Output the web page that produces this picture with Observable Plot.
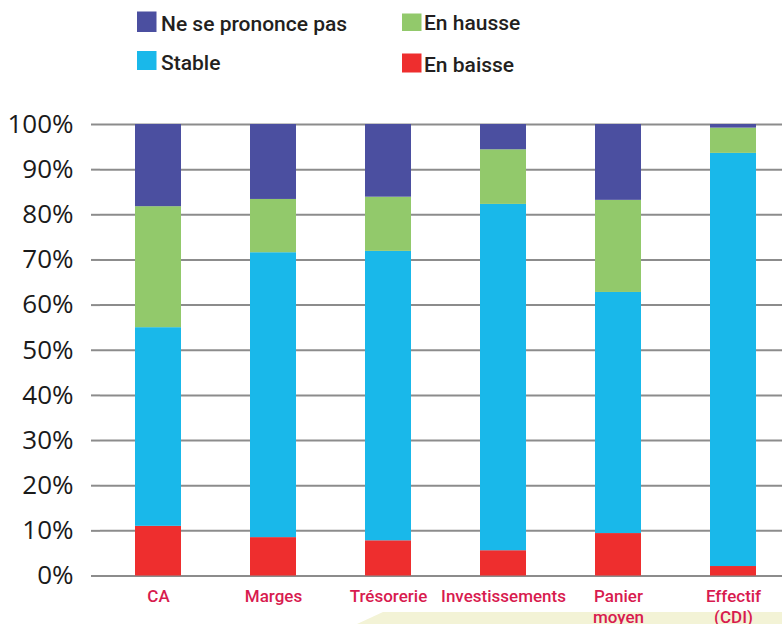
<!DOCTYPE html>
<html>
<head>
<meta charset="utf-8">
<script src="https://cdn.jsdelivr.net/npm/d3@7"></script>
<script src="https://cdn.jsdelivr.net/npm/@observablehq/plot@0.6"></script>
<style>
  html, body { margin: 0; padding: 0; background: #fff; overflow: hidden; }
  #wrap { position: relative; width: 782px; height: 624px; overflow: hidden; }
  #deco { position: absolute; left: 0; top: 0; width: 782px; height: 624px;
          background: #f3f3d6; clip-path: polygon(357px 624px, 383px 612px, 782px 612px, 782px 624px); }
  #legend { position: absolute; left: 0; top: 0; }
  #chart { position: absolute; left: 0; top: 100px; }
</style>
</head>
<body>
<div id="wrap">
  <div id="deco"></div>
  <svg id="legend" width="782" height="90"></svg>
  <div id="chart"></div>
</div>
<script>
const categories = ["CA", "Marges", "Trésorerie", "Investissements", "Panier\nmoyen", "Effectif\n(CDI)"];
const series = ["En baisse", "Stable", "En hausse", "Ne se prononce pas"];
const enBaisse   = [11.0, 8.5, 7.8, 5.6, 9.4, 2.1];
const stable     = [44.0, 63.1, 64.1, 76.7, 53.4, 91.5];
const enHausse   = [26.8, 11.8, 12.0, 12.1, 20.4, 5.6];
const nspp       = [18.2, 16.6, 16.1, 5.6, 16.8, 0.8];
const yTicks = [0, 10, 20, 30, 40, 50, 60, 70, 80, 90, 100];
const colors = ["#ee2e2e", "#19b8ea", "#92c96b", "#4b4fa0"];

const valuesBySeries = [enBaisse, stable, enHausse, nspp];
const data = [];
series.forEach((s, si) => {
  categories.forEach((c, ci) => data.push({cat: c, serie: s, value: valuesBySeries[si][ci]}));
});

// Legend overlay
const legendItems = [
  {label: "Ne se prononce pas", color: colors[3], sx: 137, sy: 11.5, sh: 20.5, tx: 161, ty: 30.5},
  {label: "En hausse", color: colors[2], sx: 402, sy: 13.5, sh: 17.5, tx: 424, ty: 30.3},
  {label: "Stable", color: colors[1], sx: 137, sy: 51, sh: 19, tx: 161, ty: 70},
  {label: "En baisse", color: colors[0], sx: 402, sy: 53.5, sh: 19, tx: 424, ty: 71.7}
];
const leg = d3.select("#legend");
legendItems.forEach(d => {
  leg.append("rect").attr("x", d.sx).attr("y", d.sy).attr("width", 19.5).attr("height", d.sh).attr("fill", d.color);
  leg.append("text").attr("x", d.tx).attr("y", d.ty)
    .attr("font-family", "Roboto, sans-serif").attr("font-size", 21).attr("font-weight", 500)
    .attr("fill", "#231f20").text(d.label);
});

const chart = Plot.plot({
  width: 782,
  height: 524,
  marginTop: 24,
  marginBottom: 48.5,
  marginLeft: 100,
  marginRight: 0,
  style: {background: "transparent", overflow: "visible"},
  x: {domain: categories, range: [100, 790], paddingInner: 0.6, paddingOuter: 0.3, label: null},
  y: {domain: [0, 100], label: null},
  color: {domain: series, range: colors},
  marks: [
    Plot.ruleY(yTicks, {stroke: "#8c8c8c", strokeWidth: 2}),
    Plot.barY(data, {x: "cat", y: "value", fill: "serie", order: series}),
    Plot.ruleX([100], {y1: 0, y2: 100, stroke: "#8c8c8c", strokeWidth: 2}),
    Plot.axisY(yTicks, {
      tickSize: 9, tickPadding: 18, stroke: "#8c8c8c", strokeWidth: 2,
      tickFormat: d => d + "%", fontSize: 26, fontFamily: "'Open Sans', 'Noto Sans', sans-serif",
      fill: "#1a1a1a", label: null
    }),
    Plot.axisX({
      tickSize: 0, tickPadding: 11, fontSize: 17, fontWeight: 500, lineHeight: 1.25,
      fontFamily: "Roboto, sans-serif", fill: "#d81b4f", label: null
    })
  ]
});
document.getElementById("chart").appendChild(chart);
</script>
</body>
</html>
